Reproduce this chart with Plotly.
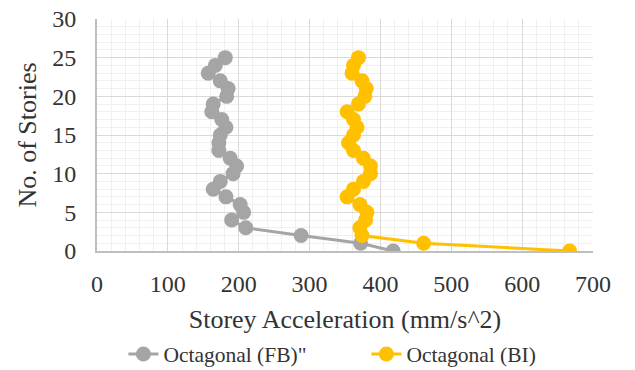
import plotly.graph_objects as go

# Storey number (0 = base) and peak storey acceleration in mm/s^2
stories = list(range(0, 26))
accel_fb = [418, 372, 288, 210, 190, 207, 202, 182, 164, 174, 192, 197, 188,
            172, 172, 174, 182, 176, 162, 164, 183, 185, 174, 157, 167, 181]
accel_bi = [667, 461, 374, 371, 379, 381, 371, 353, 362, 376, 386, 386, 376,
            362, 355, 362, 367, 362, 353, 369, 378, 380, 374, 360, 362, 369]

series_names = ['Octagonal (FB)"', "Octagonal (BI)"]
series_colors = ["#A5A5A5", "#FFC000"]

fig = go.Figure()
for name, xs, color in zip(series_names, [accel_fb, accel_bi], series_colors):
    fig.add_trace(go.Scatter(
        x=xs, y=stories, mode="lines+markers", name=name,
        line=dict(color=color, width=3),
        marker=dict(color=color, size=15),
    ))

font_family = "Liberation Serif"
fig.update_layout(
    width=635, height=370,
    margin=dict(l=97, r=42, t=19, b=119),
    paper_bgcolor="white", plot_bgcolor="white",
    font=dict(family=font_family, size=24, color="#333333"),
    showlegend=True,
    legend=dict(
        orientation="h", xref="container", yref="container",
        x=0.577, y=0.043, xanchor="center", yanchor="middle",
        font=dict(family=font_family, size=21.5, color="#333333"),
        itemwidth=30, entrywidth=198, tracegroupgap=0,
    ),
)
fig.update_xaxes(
    range=[0, 700], dtick=100, tick0=0, automargin=False,
    showgrid=True, gridcolor="#D9D9D9", gridwidth=1,
    minor=dict(dtick=20, showgrid=True, gridcolor="#F0F0F0", gridwidth=1),
    showline=True, linecolor="#BFBFBF", linewidth=2,
    zeroline=False, ticks="", ticklabelstandoff=10,
    tickfont=dict(family=font_family, size=24),
    title=dict(text="Storey Acceleration (mm/s^2)",
               font=dict(family=font_family, size=26), standoff=14),
)
fig.update_yaxes(
    range=[0, 30], dtick=5, tick0=0, automargin=False,
    showgrid=True, gridcolor="#D9D9D9", gridwidth=1,
    minor=dict(dtick=1, showgrid=True, gridcolor="#F0F0F0", gridwidth=1),
    showline=True, linecolor="#BFBFBF", linewidth=2,
    zeroline=False, ticks="", ticklabelstandoff=14,
    tickfont=dict(family=font_family, size=24),
    title=dict(text="No. of Stories",
               font=dict(family=font_family, size=26), standoff=8),
)

fig.write_html("out.html")
